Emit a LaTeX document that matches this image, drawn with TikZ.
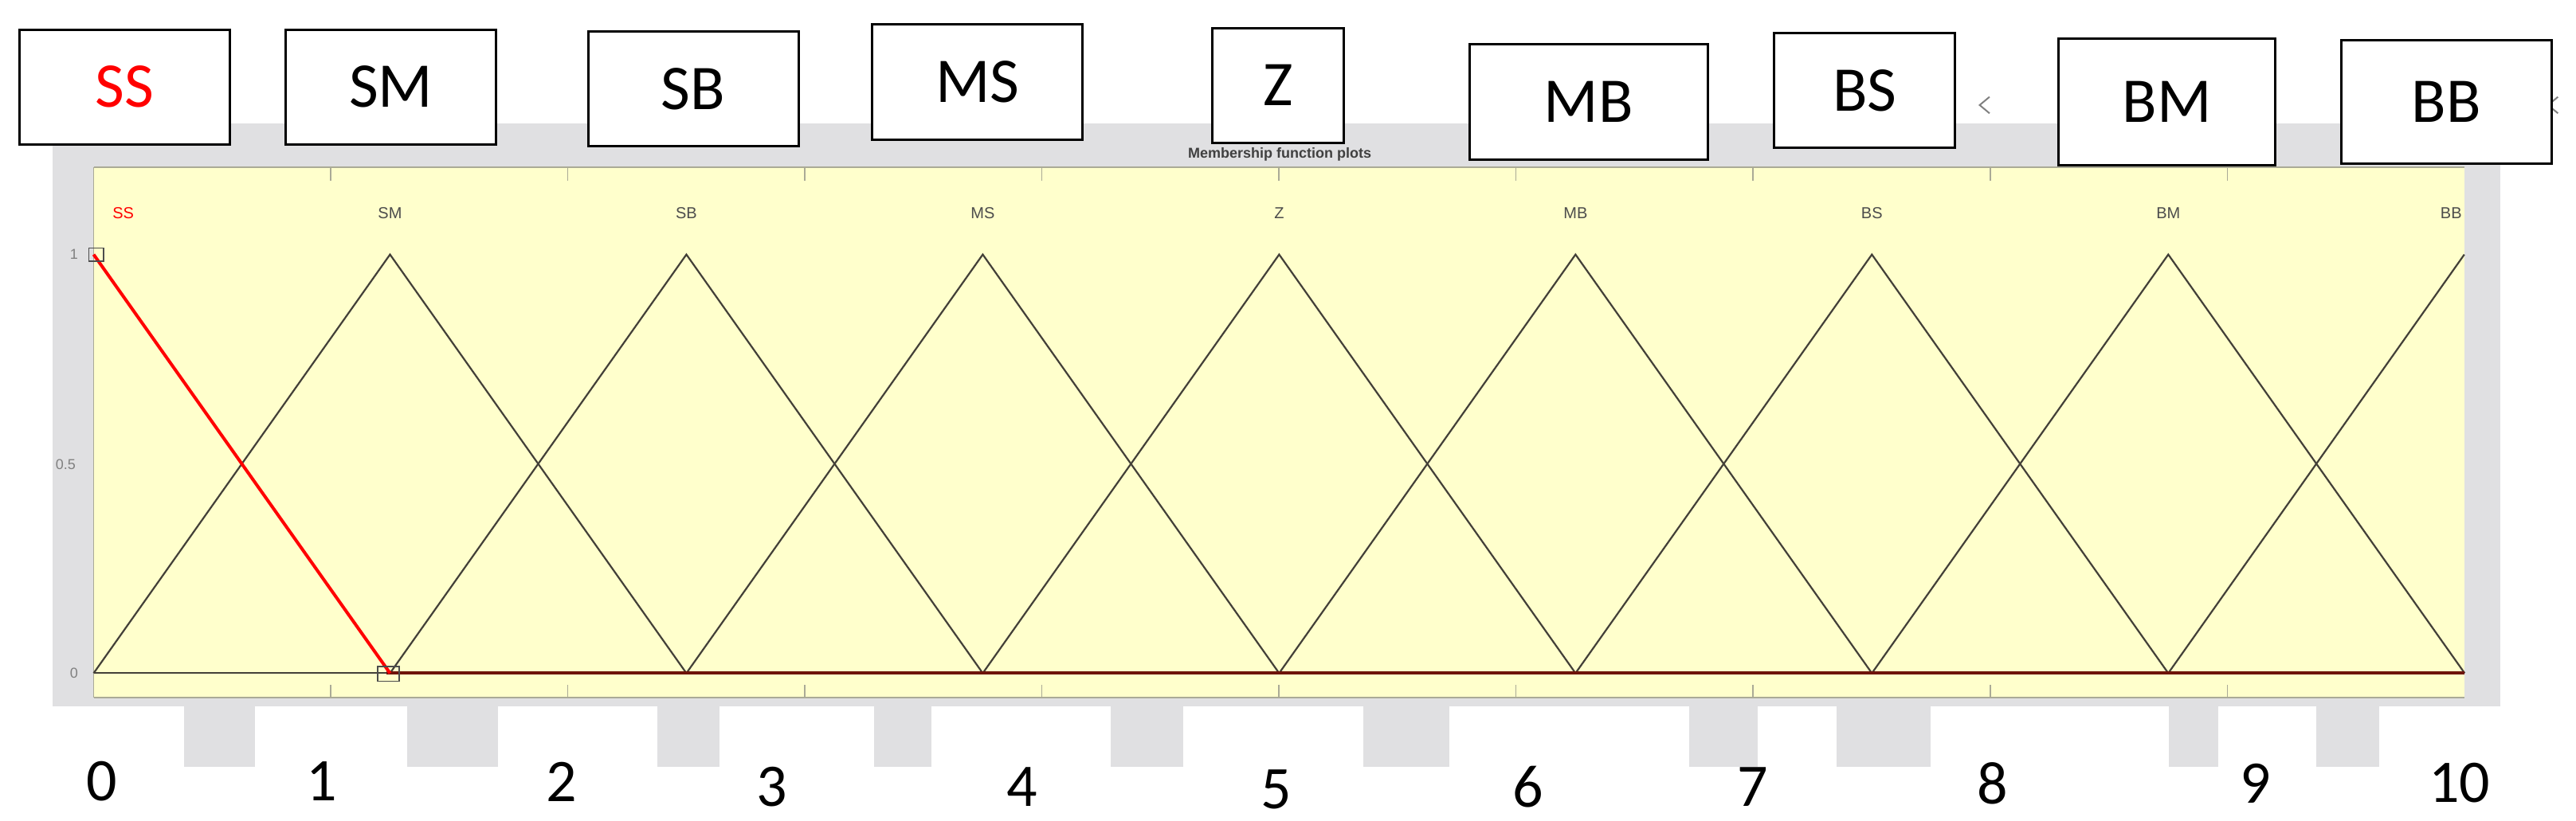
\documentclass[tikz,border=0pt]{standalone}
\usepackage{fontspec}
\setmainfont{Carlito}
\newfontfamily\plotfont{Liberation Sans}
\definecolor{bggray}{RGB}{224,224,226}
\definecolor{plotyel}{RGB}{255,255,204}
\definecolor{darkred}{RGB}{110,20,10}
\definecolor{tickc}{RGB}{170,170,150}
\begin{document}
\begin{tikzpicture}[x=2.062pt,y=-2.062pt,
  lbox/.style={draw=black,line width=3pt,fill=white,minimum width=128*2.062pt,minimum height=70*2.062pt,inner sep=0pt,font=\fontsize{80}{90}\selectfont},
  num/.style={font=\fontsize{76}{84}\selectfont,inner sep=0pt},
  mlab/.style={font=\plotfont\fontsize{20}{22}\selectfont,text=black!70,inner sep=0pt},
  ylab/.style={font=\plotfont\fontsize{18}{20}\selectfont,text=black!50,inner sep=0pt},
  mf/.style={line width=2.2pt,black!85!yellow}]
\useasboundingbox (0,0) rectangle (1568,500);
\fill[white] (0,0) rectangle (1568,500);
% gray panel
\fill[bggray] (32,75) rectangle (1522,467);
% white blocks in bottom strip
\foreach \a/\b in {0/112,155/248,303/400,438/532,567/676,720/830,882/1028,1070/1118,1175/1320,1350/1410,1448/1568}
  \fill[white] (\a,430) rectangle (\b,500);
\fill[white] (0,467) rectangle (1568,500);
% plot
\fill[plotyel] (57,102) rectangle (1500,425);
\draw[tickc,line width=2pt] (57,102) -- (1500,102);
\draw[tickc,line width=2pt] (57,425) -- (1500,425);
\draw[tickc,line width=1.5pt] (57,102) -- (57,425);
\foreach \i in {1,...,9} {
  \draw[tickc,line width=1.5pt] ({57+144.3*\i},102) -- ++(0,8);
  \draw[tickc,line width=1.5pt] ({57+144.3*\i},425) -- ++(0,-8);
}
\node[font=\plotfont\bfseries\fontsize{18}{20}\selectfont,text=black!75] (title) at (779,94) {Membership function plots};
\node[ylab] (y1) at (45,155) {1};
\node[ylab] (y5) at (40,283) {0.5};
\node[ylab] (y0) at (45,410) {0};
% membership functions
\foreach \p in {1,...,7}
  \draw[mf] ({57+180.4*(\p-1)},410) -- ({57+180.4*\p},155) -- ({57+180.4*(\p+1)},410);
\draw[mf] (1319.8,410) -- (1500,155);
\draw[mf] (57,410) -- (235,410);
\draw[darkred,line width=4pt] (235,410) -- (1500,410);
\draw[red,line width=4pt] (57,155) -- (237.4,410);
\draw[black!70,line width=1.5pt] (54,151) rectangle (63,159);
\draw[black!70,line width=1.5pt] (230,406) rectangle (243,415);
% plot labels
\node[mlab,text=red] (l0) at (75,130) {SS};
\foreach \t [count=\k] in {SM,SB,MS,Z,MB,BS,BM} \node[mlab] (l\k) at ({57+180.4*\k},130) {\t};
\node[mlab] (l8) at (1492,130) {BB};
% chevrons
\draw[gray,line width=2pt] (1211,59) -- (1205,64) -- (1211,69);
\draw[gray,line width=2pt] (1557,59) -- (1551,64) -- (1557,69);
% top boxes
\node[lbox,text=red] (bSS) at (76,53) {SS};
\node[lbox] (bSM) at (238,53) {SM};
\node[lbox] (bSB) at (422,54) {SB};
\node[lbox] (bMS) at (595,50) {MS};
\node[lbox,minimum width=80*2.062pt] (bZ) at (778,52) {Z};
\node[lbox,minimum width=145*2.062pt] (bMB) at (967,62) {MB};
\node[lbox,minimum width=110*2.062pt] (bBS) at (1135,55) {BS};
\node[lbox,minimum width=132*2.062pt,minimum height=77*2.062pt] (bBM) at (1319,62) {BM};
\node[lbox,minimum height=75*2.062pt] (bBB) at (1489,62) {BB};
% bottom numbers
\foreach \n/\x/\y in {0/62/476,1/196/476,2/342/476,3/470/479,4/622/479,5/777/481,6/930/479,7/1067/479,8/1213/477,9/1373/477,10/1497/477}
  \node[num] (n\n) at (\x,\y) {\n};
\end{tikzpicture}
\end{document}
